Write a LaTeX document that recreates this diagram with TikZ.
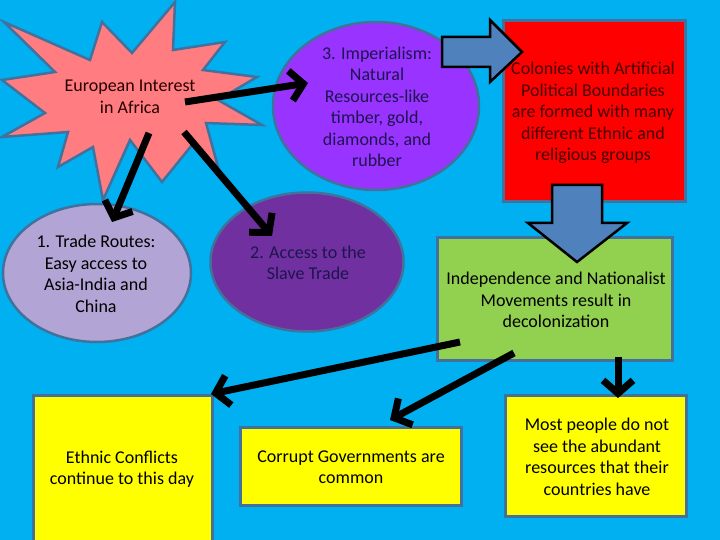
\documentclass[tikz,border=0pt]{standalone}
\usepackage{fontspec}
\setmainfont{Carlito}
\usetikzlibrary{arrows.meta,shapes.geometric}
\definecolor{bg}{RGB}{0,176,240}
\definecolor{bord}{RGB}{65,113,156}
\definecolor{starfill}{RGB}{255,124,128}
\definecolor{violetA}{RGB}{153,51,255}
\definecolor{purpleB}{RGB}{112,48,160}
\definecolor{lavC}{RGB}{178,164,212}
\definecolor{greenD}{RGB}{146,208,80}
\definecolor{yellowE}{RGB}{255,255,0}
\definecolor{redF}{RGB}{255,0,0}
\definecolor{blockblue}{RGB}{79,129,189}
\definecolor{navytext}{RGB}{30,20,80}
\definecolor{coltxt}{RGB}{70,0,0}
\tikzset{
  txt/.style={align=center, font=\fontsize{18}{21.5}\selectfont, inner sep=0pt},
  blob/.style={ellipse, draw=bord, line width=2.5pt, inner sep=0pt},
  boxnode/.style={rectangle, draw=bord, line width=3pt, inner sep=0pt},
  blockarrow/.style={fill=blockblue, draw=black, line width=2.5pt, line join=miter},
  bigarrow/.style={draw=black, line width=7pt, -{Straight Barb[length=13pt,width=30pt,line width=7pt]}}
}
\begin{document}
\begin{tikzpicture}[x=1pt,y=-1pt]
\useasboundingbox (0,0) rectangle (720,540);
\clip (0,0) rectangle (720,540);
\fill[bg] (0,0) rectangle (720,540);
% star
\filldraw[fill=starfill, draw=bord, line width=2.5pt, line join=miter]
  (4,22) -- (90,60) -- (102,22) -- (132,53) -- (175,2) -- (173,50) -- (225,42)
  -- (203,70) -- (257,77) -- (218,100) -- (262,125) -- (206,123) -- (218,167)
  -- (192,145) -- (162,182) -- (130,140) -- (103,200) -- (93,147) -- (58,167)
  -- (68,132) -- (2,137) -- (45,113) -- (2,80) -- (55,72) -- cycle;
\node[txt, text=black!85!red] (eu) at (130,97) {European Interest\\in Africa};
% ellipses / circles
\node[blob, fill=violetA, minimum width=206, minimum height=168] (imp) at (376,106) {};
\node[txt, text=navytext] (impt) at (377,107) {3. Imperialism:\\Natural\\Resources-like\\timber, gold,\\diamonds, and\\rubber};
\node[blob, fill=lavC, minimum width=188, minimum height=138] (trade) at (97,273) {};
\node[txt, text=black] (tradet) at (96,274) {1. Trade Routes:\\Easy access to\\Asia-India and\\China};
\node[blob, fill=purpleB, minimum width=193, minimum height=139] (slave) at (307,262) {};
\node[txt, text=navytext] (slavet) at (308,263) {2. Access to the\\Slave Trade};
% boxes
\node[boxnode, fill=redF, minimum width=182, minimum height=181] (col) at (594,111.5) {};
\node[txt, text=coltxt] (colt) at (593,113) {Colonies with Artificial\\Political Boundaries\\are formed with many\\different Ethnic and\\religious groups};
\node[boxnode, fill=greenD, minimum width=235, minimum height=123] (ind) at (555,298.5) {};
\node[txt] (indt) at (556,300) {Independence and Nationalist\\Movements result in\\decolonization};
\node[boxnode, fill=yellowE, minimum width=179, minimum height=150] (eth) at (122.5,470) {};
\node[txt] (etht) at (122,469) {Ethnic Conflicts\\continue to this day};
\node[boxnode, fill=yellowE, minimum width=221, minimum height=78] (cor) at (350.5,466.5) {};
\node[txt] (cort) at (351,467) {Corrupt Governments are\\common};
\node[boxnode, fill=yellowE, minimum width=181, minimum height=121] (most) at (596,456) {};
\node[txt] (mostt) at (597,457) {Most people do not\\see the abundant\\resources that their\\countries have};
% block arrows
\filldraw[blockarrow] (442,37) -- (490,37) -- (490,20) -- (522,52) -- (490,82) -- (490,67) -- (442,67) -- cycle;
\filldraw[blockarrow] (552,185) -- (602,185) -- (602,223) -- (627,223) -- (577,262) -- (528,223) -- (552,223) -- cycle;
% black arrows
\coordinate (s1) at (185,102); \coordinate (e1) at (308,83);
\coordinate (s2) at (149,133); \coordinate (e2) at (112,222);
\coordinate (s3) at (184,132); \coordinate (e3) at (272,236);
\coordinate (s4) at (460,342); \coordinate (e4) at (211,394);
\coordinate (s5) at (514,353); \coordinate (e5) at (390,420);
\coordinate (s6) at (618,357); \coordinate (e6) at (618,398);
\draw[bigarrow] (s1) -- (e1);
\draw[bigarrow] (s2) -- (e2);
\draw[bigarrow] (s3) -- (e3);
\draw[bigarrow] (s4) -- (e4);
\draw[bigarrow] (s5) -- (e5);
\draw[bigarrow] (s6) -- (e6);
\end{tikzpicture}
\end{document}
